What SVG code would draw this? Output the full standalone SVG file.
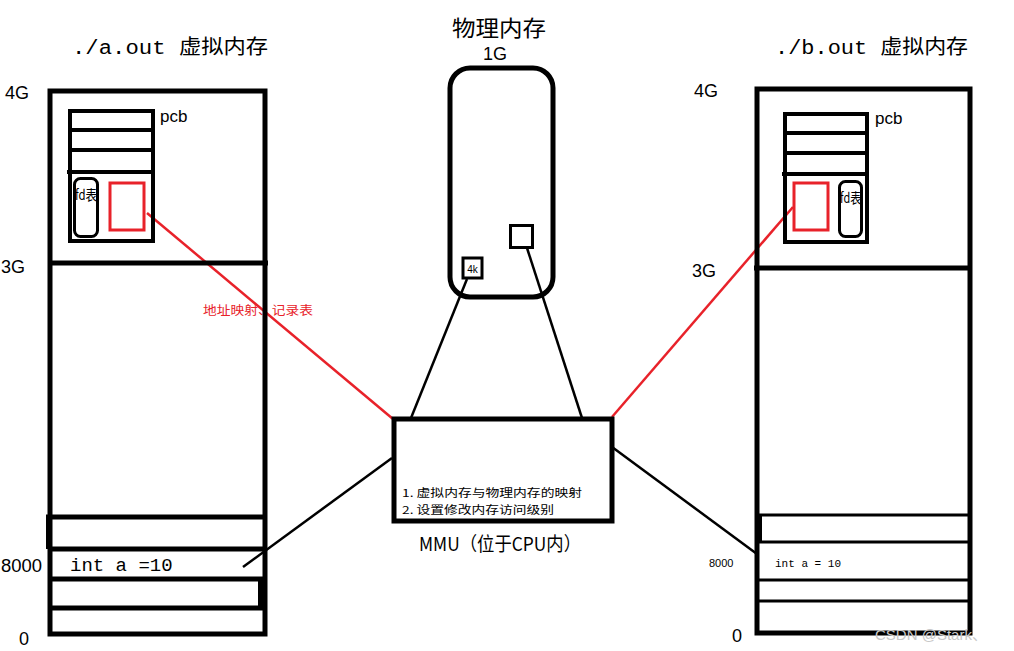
<svg xmlns="http://www.w3.org/2000/svg" width="1014" height="651" viewBox="0 0 1014 651">
<style>
.b{fill:none;stroke:#000;stroke-width:5}
.t{fill:none;stroke:#000;stroke-width:4}
.r{fill:none;stroke:#e8222a;stroke-width:3}
.ln{stroke:#000;stroke-width:2.5;fill:none}
.rl{stroke:#e8222a;stroke-width:2.5;fill:none}
.cjk{font-family:"Noto Sans CJK SC","Liberation Sans",sans-serif;fill:#000}
.mono{font-family:"Liberation Mono","Noto Sans CJK SC",monospace;fill:#000}
.sans{font-family:"Liberation Sans","Noto Sans CJK SC",sans-serif;fill:#000}
</style>
<rect width="1014" height="651" fill="#fff"/>
<g id="connectors">
<line class="rl" x1="147" y1="213" x2="393" y2="419"/>
<line class="rl" x1="612" y1="417" x2="793" y2="207"/>
<line class="ln" x1="392" y1="458" x2="243" y2="567"/>
<line class="ln" x1="612" y1="447" x2="757" y2="554"/>
<line class="ln" x1="467" y1="279" x2="411" y2="418"/>
<line class="ln" x1="527" y1="248" x2="582" y2="418"/>
</g>
<g id="label-map">
<text class="cjk" x="203" y="315" font-size="12" fill="#e8222a" style="fill:#e8222a" textLength="110" lengthAdjust="spacingAndGlyphs">地址映射、记录表</text>
</g>
<g id="a-out">
<text class="mono" x="72" y="54" font-size="20" textLength="196" lengthAdjust="spacingAndGlyphs">./a.out 虚拟内存</text>
<rect class="b" x="50" y="91" width="215" height="543"/>
<line class="b" x1="48" y1="263" x2="268" y2="263"/>
<rect class="t" x="70" y="111" width="83" height="130"/>
<line class="t" x1="70" y1="130" x2="153" y2="130"/>
<line class="t" x1="70" y1="150" x2="153" y2="150"/>
<line class="t" x1="67" y1="172" x2="153" y2="172"/>
<rect x="74.5" y="178.5" width="23" height="58" rx="6" fill="none" stroke="#000" stroke-width="3"/>
<text class="cjk" x="75" y="200" font-size="14" textLength="22" lengthAdjust="spacingAndGlyphs">fd表</text>
<rect class="r" x="110" y="183" width="34" height="47"/>
<text class="sans" x="160" y="122" font-size="17">pcb</text>
<line class="b" x1="46" y1="517" x2="265" y2="517"/>
<rect x="46" y="517" width="6" height="32" fill="#000"/>
<line class="b" x1="50" y1="549" x2="265" y2="549"/>
<line class="b" x1="50" y1="579" x2="265" y2="579"/>
<rect x="258" y="579" width="7" height="29" fill="#000"/>
<line class="b" x1="50" y1="608" x2="265" y2="608"/>
<text class="mono" x="70" y="571" font-size="19">int a =10</text>
<text class="sans" x="5" y="99" font-size="18">4G</text>
<text class="sans" x="1" y="273" font-size="18">3G</text>
<text class="sans" x="1" y="572" font-size="18" textLength="41" lengthAdjust="spacingAndGlyphs">8000</text>
<text class="sans" x="19" y="645" font-size="18">0</text>
</g>
<g id="b-out">
<text class="mono" x="775" y="54" font-size="20" textLength="193" lengthAdjust="spacingAndGlyphs">./b.out 虚拟内存</text>
<rect class="b" x="757" y="89" width="213" height="544"/>
<line class="b" x1="754" y1="268" x2="972" y2="268"/>
<rect class="t" x="785" y="114" width="82" height="128"/>
<line class="t" x1="785" y1="133" x2="867" y2="133"/>
<line class="t" x1="785" y1="153" x2="867" y2="153"/>
<line class="t" x1="782" y1="174" x2="867" y2="174"/>
<rect class="r" x="794" y="183" width="34" height="47"/>
<rect x="839.5" y="181.5" width="22" height="55" rx="6" fill="none" stroke="#000" stroke-width="3"/>
<text class="cjk" x="840" y="203" font-size="14" textLength="21" lengthAdjust="spacingAndGlyphs">fd表</text>
<text class="sans" x="875" y="124" font-size="17">pcb</text>
<line class="ln" x1="757" y1="515" x2="970" y2="515" style="stroke-width:3"/>
<rect x="755" y="515" width="7" height="27" fill="#000"/>
<line class="ln" x1="757" y1="542" x2="970" y2="542" style="stroke-width:3"/>
<line class="ln" x1="757" y1="580" x2="970" y2="580" style="stroke-width:3"/>
<line class="ln" x1="757" y1="601" x2="970" y2="601" style="stroke-width:3"/>
<text class="mono" x="775" y="567" font-size="11">int a = 10</text>
<text class="sans" x="709" y="567" font-size="11">8000</text>
<text class="sans" x="694" y="97" font-size="18">4G</text>
<text class="sans" x="692" y="277" font-size="18">3G</text>
<text class="sans" x="732" y="642" font-size="18">0</text>
</g>
<g id="physical">
<text class="cjk" x="499" y="36" font-size="22" text-anchor="middle" textLength="94" lengthAdjust="spacingAndGlyphs">物理内存</text>
<text class="sans" x="495" y="60" font-size="18" text-anchor="middle">1G</text>
<rect x="450" y="68" width="103" height="229" rx="20" fill="none" stroke="#000" stroke-width="5"/>
<rect x="463" y="258" width="19" height="20" fill="#fff" stroke="#000" stroke-width="3"/>
<text class="sans" x="472.5" y="273" font-size="10" text-anchor="middle">4k</text>
<rect x="510.5" y="225.5" width="22" height="22" fill="#fff" stroke="#000" stroke-width="3"/>
</g>
<g id="mmu">
<rect class="b" x="394" y="419" width="218" height="102" fill="#fff"/>
<text class="cjk" x="402" y="497" font-size="11" textLength="180" lengthAdjust="spacingAndGlyphs">1. 虚拟内存与物理内存的映射</text>
<text class="cjk" x="402" y="514" font-size="11" textLength="152" lengthAdjust="spacingAndGlyphs">2. 设置修改内存访问级别</text>
<text class="cjk" x="500" y="551" font-size="19" text-anchor="middle" textLength="162" lengthAdjust="spacingAndGlyphs">MMU（位于CPU内）</text>
</g>
<text class="sans" x="875" y="640" font-size="15" style="fill:#c8c8c8">CSDN @Stark、</text>
</svg>
